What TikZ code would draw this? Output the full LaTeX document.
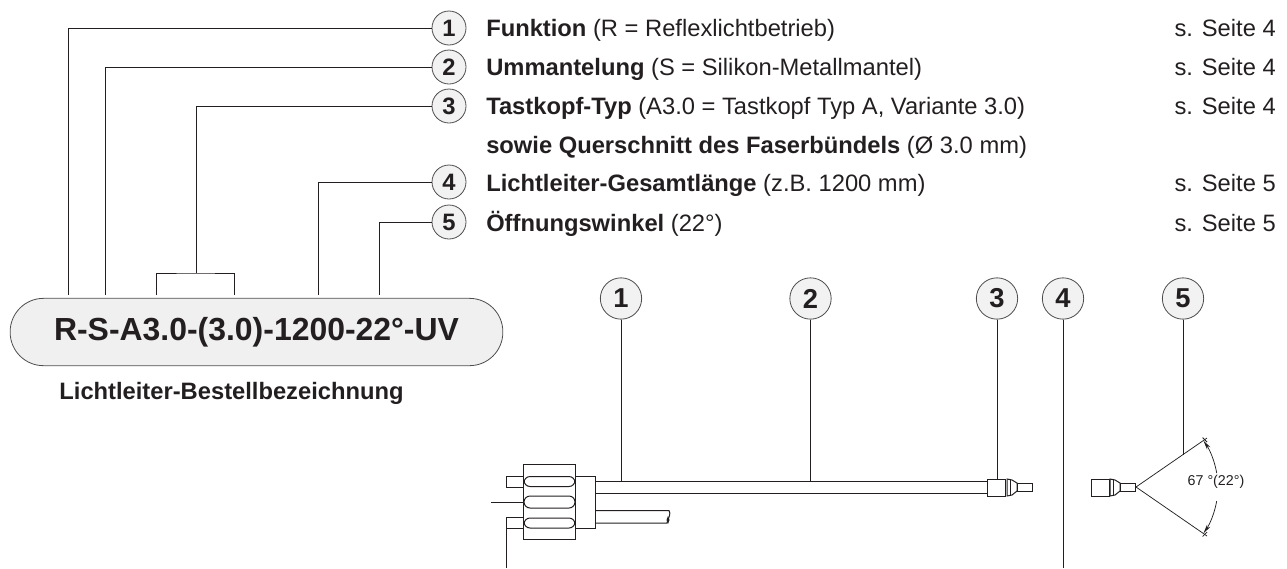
\documentclass[tikz,border=0pt]{standalone}
\usepackage{fontspec}
\setmainfont{Liberation Sans}
\usetikzlibrary{arrows.meta,calc}
\definecolor{inkblack}{HTML}{231F20}
\newcommand{\BaseFont}{\fontsize{17.8pt}{21pt}\selectfont}

\begin{document}
\begin{tikzpicture}[
    x=0.75pt, y=-0.75pt,
    every node/.style={text=inkblack},
    nummer/.style={draw=inkblack!80, fill=gray!10, circle, line width=0.6pt, minimum size=25.5pt, inner sep=0pt, font=\BaseFont\bfseries},
    nummergross/.style={nummer, minimum size=31pt, font=\fontsize{20.5pt}{24pt}\selectfont\bfseries},
    zeile/.style={anchor=base west, inner sep=0pt, font=\BaseFont},
    seite/.style={anchor=base east, inner sep=0pt, font=\BaseFont},
    leader/.style={draw=inkblack, line width=0.55pt},
    kontur/.style={draw=inkblack, line width=0.75pt},
    winkel/.style={draw=inkblack, line width=0.55pt, -{Stealth[length=7pt,width=3pt]}}
]
\useasboundingbox (0,0) rectangle (1287,568);

% Numbers at the top
\node[nummer] (top1) at (449,28) {1};
\node[nummer] (top2) at (449,67) {2};
\node[nummer] (top3) at (449,106) {3};
\node[nummer] (top4) at (449,182) {4};
\node[nummer] (top5) at (449,222) {5};

% Text lines
\node[zeile] (txt1) at (486,36.5) {\textbf{Funktion} (R = Reflexlichtbetrieb)};
\node[zeile] (txt2) at (486,75.5) {\textbf{Ummantelung} (S = Silikon-Metallmantel)};
\node[zeile] (txt3) at (486,114.5) {\textbf{Tastkopf-Typ} (A3.0 = Tastkopf Typ A, Variante 3.0)};
\node[zeile] (txt3b) at (486,153) {\textbf{sowie Querschnitt des Faserbündels} (Ø 3.0 mm)};
\node[zeile] (txt4) at (486,191.5) {\textbf{Lichtleiter-Gesamtlänge} (z.B. 1200 mm)};
\node[zeile] (txt5) at (486,231.5) {\textbf{Öffnungswinkel} (22°)};

% Page references
\node[seite] (sei1) at (1276,36.5) {s. Seite 4};
\node[seite] (sei2) at (1276,75.5) {s. Seite 4};
\node[seite] (sei3) at (1276,114.5) {s. Seite 4};
\node[seite] (sei4) at (1276,191.5) {s. Seite 5};
\node[seite] (sei5) at (1276,231.5) {s. Seite 5};

% Order code
\node[draw=inkblack!80, fill=gray!12, line width=0.6pt, rounded corners=25pt, minimum width=369.5pt, minimum height=50.5pt, inner sep=0pt, font=\fontsize{23.95pt}{28pt}\selectfont\bfseries] (code) at (256.5,332) {R-S-A3.0-(3.0)-1200-22°-UV};
\node[inner sep=0pt, font=\BaseFont\bfseries] (codetxt) at (231.5,393) {Lichtleiter-Bestellbezeichnung};

% Leaders to the order code
\coordinate (end1) at (68,295);
\coordinate (end2) at (105,295);
\coordinate (end3) at (196,273);
\coordinate (end3a) at (156,295);
\coordinate (end3b) at (234,295);
\coordinate (end4) at (318,295);
\coordinate (end5) at (379,295);
\draw[leader] (top1.west) -| (end1);
\draw[leader] (top2.west) -| (end2);
\draw[leader] (top3.west) -| (end3);
\draw[leader] (end3a) |- (end3) -| (end3b);
\draw[leader] (top4.west) -| (end4);
\draw[leader] (top5.west) -| (end5);

% Numbers above the drawing
\node[nummergross] (bot1) at (621,298.5) {1};
\node[nummergross] (bot2) at (810.5,298.5) {2};
\node[nummergross] (bot3) at (997,298.5) {3};
\node[nummergross] (bot4) at (1063,298.5) {4};
\node[nummergross] (bot5) at (1183,298.5) {5};

% Connector body
\draw[kontur, fill=white] (523.5,464) rectangle (575,539);
\draw[kontur] (575,476) rectangle (595.5,528);
\draw[kontur] (523.5,476) -- (506,476) -- (506,487) -- (523.5,487);
\draw[kontur, rounded corners=4.5pt] (524,476.5) rectangle (575,486.5);
\draw[kontur, rounded corners=4.5pt] (524,496) rectangle (575,508);
\draw[kontur, rounded corners=4.5pt] (524,518) rectangle (575,528);
\draw[leader] (491,502) -- (524,502);

% Cables
\draw[kontur] (595.5,481) -- (987,481);
\draw[kontur] (595.5,493) -- (987,493);
\draw[kontur] (595.5,510.5) -- (669,510.5) .. controls (671,514) and (669,516) .. (667,523) -- (595.5,523);
\fill[inkblack] (668,516) -- (669.5,520) -- (668,524) -- (666.5,520) -- cycle;

% Fibre ends
\draw[kontur] (987,479) rectangle (1005,496);
\draw[kontur] (1007,479) -- (1012,480) -- (1017,483) -- (1017,491) -- (1012,495) -- (1007,496) -- cycle;
\draw[kontur] (1010,479.5) -- (1010,495.5);
\draw[kontur] (1017,483) rectangle (1032,491);
\draw[kontur] (1091,479) rectangle (1109,496);
\draw[kontur] (1110,479) -- (1115,480) -- (1120,483) -- (1120,491) -- (1115,495) -- (1110,496) -- cycle;
\draw[kontur] (1113,479.5) -- (1113,495.5);
\draw[kontur] (1120,483) rectangle (1135,491);

% Angle
\coordinate (apex) at (1136,487);
\coordinate (spitzeO) at (1207,438);
\coordinate (spitzeU) at (1207,536);
\draw[leader] (apex) -- (spitzeO);
\draw[leader] (apex) -- (spitzeU);
\draw[winkel] (1216.7,473) arc[start angle=-10, end angle=-34.6, radius=82];
\draw[winkel] (1216.7,501) arc[start angle=10, end angle=34.6, radius=82];
\draw[leader] (1202.5,437.5) -- (1207,442);
\draw[leader] (1202.5,536.5) -- (1207,532);
\node[inner sep=0pt, font=\fontsize{10.7pt}{13pt}\selectfont] (winkeltxt) at (1216,482) {67 °(22°)};

% Leaders to the drawing
\coordinate (mark1) at (621,481);
\coordinate (mark2) at (810.5,481);
\coordinate (mark3) at (997,479);
\coordinate (mark4) at (1063,528);
\coordinate (mark4b) at (1063,568);
\coordinate (mark5) at (1183,455);
\coordinate (mark6) at (506,517);
\coordinate (mark7) at (506,568);
\draw[leader] (bot1) -- (mark1);
\draw[leader] (bot2) -- (mark2);
\draw[leader] (bot3) -- (mark3);
\draw[leader] (bot4) -- (mark4);
\draw[kontur] (mark4) -- (mark4b);
\draw[leader] (bot5) -- (mark5);
\draw[kontur] (523.5,517) -- (mark6) -- (mark7);
\draw[kontur] (506,528) -- (523.5,528);

\end{tikzpicture}
\end{document}
